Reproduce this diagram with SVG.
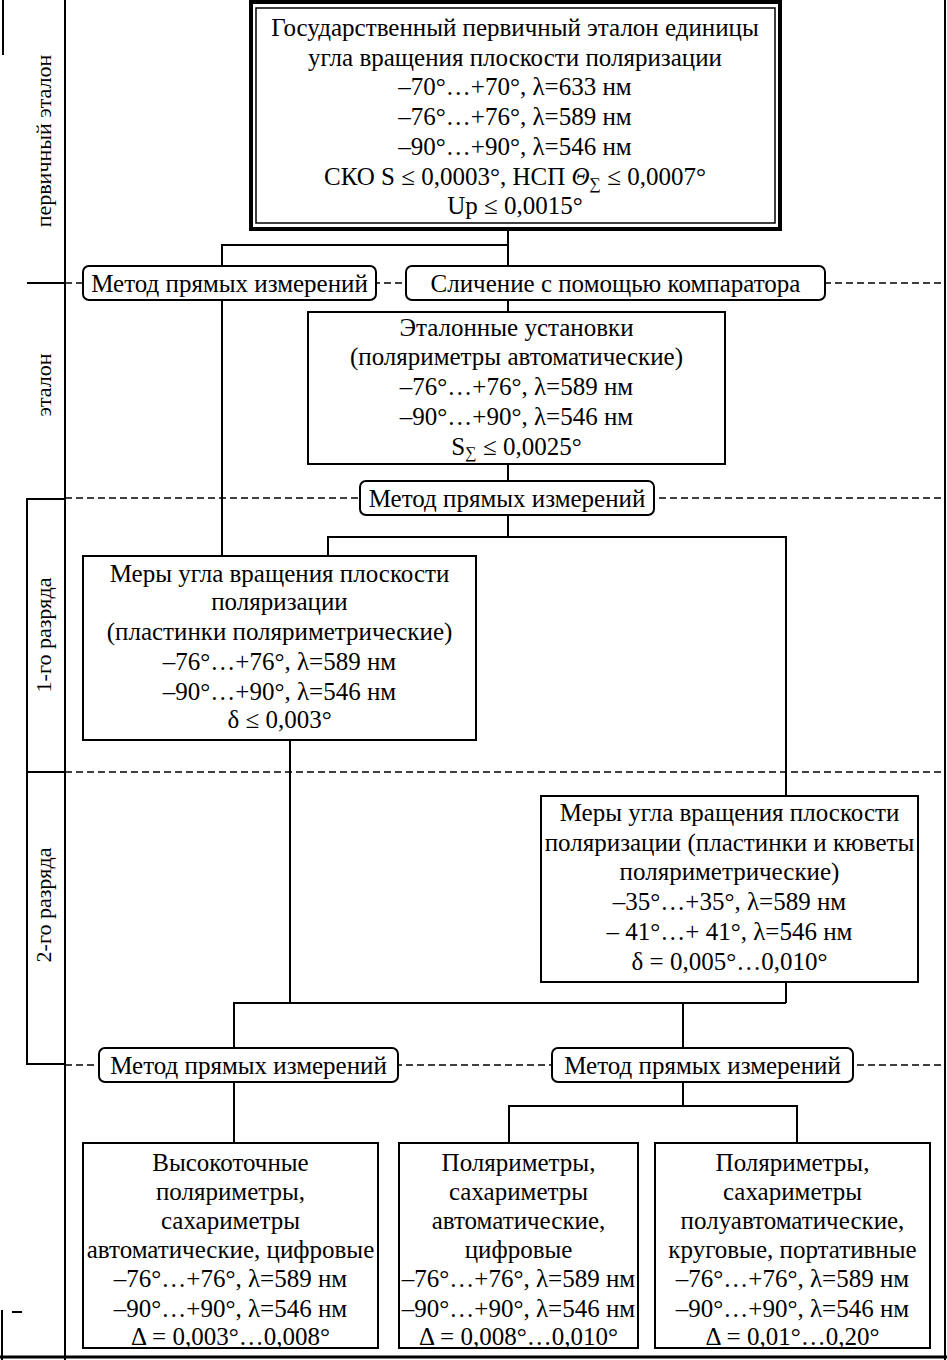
<svg xmlns="http://www.w3.org/2000/svg" width="947" height="1360" viewBox="0 0 947 1360">
<style>
text{font-family:"Liberation Serif","Times New Roman",serif;font-size:25px;fill:#000;text-anchor:middle}
.box{fill:#fff;stroke:#000;stroke-width:2}
.rbox{fill:#fff;stroke:#000;stroke-width:2}
.ln{stroke:#000;stroke-width:2;fill:none}
.dash{stroke:#000;stroke-width:1.5;stroke-dasharray:7 4;fill:none}
.lab{font-size:22px}
</style>
<rect width="947" height="1360" fill="#fff"/>
<g id="frame">
<line class="ln" x1="65" y1="0" x2="65" y2="1360"/>
<line class="ln" x1="945" y1="0" x2="945" y2="1360"/>
<line x1="0" y1="1357" x2="947" y2="1357" stroke="#000" stroke-width="3"/>
<line class="ln" x1="3" y1="0" x2="3" y2="55"/>
<line class="ln" x1="2" y1="1310" x2="2" y2="1360"/>
<line class="ln" x1="12" y1="1312" x2="22" y2="1312"/>
<line class="ln" x1="27" y1="283" x2="65" y2="283"/>
<rect class="ln" x="27" y="499" width="38" height="565"/>
<line class="ln" x1="27" y1="772" x2="65" y2="772"/>
<line class="dash" x1="65" y1="283" x2="945" y2="283"/>
<line class="dash" x1="65" y1="498" x2="945" y2="498"/>
<line class="dash" x1="65" y1="772" x2="945" y2="772"/>
<line class="dash" x1="65" y1="1065" x2="945" y2="1065"/>
<text class="lab" transform="translate(51,141) rotate(-90)">первичный эталон</text>
<text class="lab" transform="translate(51,385) rotate(-90)">эталон</text>
<text class="lab" transform="translate(51,635) rotate(-90)">1-го разряда</text>
<text class="lab" transform="translate(51,905) rotate(-90)">2-го разряда</text>
</g>
<g id="connectors">
<polyline class="ln" points="508,229 508,245 222,245 222,266"/>
<line class="ln" x1="508" y1="245" x2="508" y2="266"/>
<line class="ln" x1="222" y1="300" x2="222" y2="556"/>
<line class="ln" x1="508" y1="300" x2="508" y2="312"/>
<line class="ln" x1="508" y1="464" x2="508" y2="481"/>
<line class="ln" x1="508" y1="515" x2="508" y2="537"/>
<polyline class="ln" points="328,556 328,537 786,537 786,796"/>
<line class="ln" x1="290" y1="740" x2="290" y2="1003"/>
<line class="ln" x1="786" y1="982" x2="786" y2="1003"/>
<polyline class="ln" points="234,1048 234,1003 786,1003"/>
<line class="ln" x1="683" y1="1003" x2="683" y2="1048"/>
<line class="ln" x1="234" y1="1082" x2="234" y2="1143"/>
<line class="ln" x1="683" y1="1082" x2="683" y2="1106"/>
<polyline class="ln" points="509,1143 509,1106 797,1106 797,1143"/>
</g>
<g id="n_primary">
<rect x="251" y="2" width="529" height="227" fill="#fff" stroke="#000" stroke-width="4"/>
<rect x="256" y="8" width="519" height="215" fill="none" stroke="#000" stroke-width="1.5"/>
<text x="515" y="36">Государственный первичный эталон единицы</text>
<text x="515" y="66">угла вращения плоскости поляризации</text>
<text x="515" y="95">–70°…+70°, λ=633 нм</text>
<text x="515" y="125">–76°…+76°, λ=589 нм</text>
<text x="515" y="155">–90°…+90°, λ=546 нм</text>
<text x="515" y="185">СКО S ≤ 0,0003°, НСП <tspan font-style="italic">Θ</tspan><tspan font-size="16" dy="4">∑</tspan><tspan dy="-4"> ≤ 0,0007°</tspan></text>
<text x="515" y="214">Up ≤ 0,0015°</text>
</g>
<g id="m_direct1">
<rect class="rbox" x="83" y="266" width="293" height="34" rx="6"/>
<text x="229.5" y="292">Метод прямых измерений</text>
</g>
<g id="m_compar">
<rect class="rbox" x="406" y="266" width="419" height="34" rx="6"/>
<text x="615.5" y="292">Сличение с помощью компаратора</text>
</g>
<g id="n_etalon">
<rect class="box" x="308" y="312" width="417" height="152"/>
<text x="516.5" y="336">Эталонные установки</text>
<text x="516.5" y="365">(поляриметры автоматические)</text>
<text x="516.5" y="395">–76°…+76°, λ=589 нм</text>
<text x="516.5" y="425">–90°…+90°, λ=546 нм</text>
<text x="516.5" y="455">S<tspan font-size="16" dy="3">∑</tspan><tspan dy="-3"> ≤ 0,0025°</tspan></text>
</g>
<g id="m_direct2">
<rect class="rbox" x="360" y="481" width="294" height="34" rx="6"/>
<text x="507" y="507">Метод прямых измерений</text>
</g>
<g id="n_rank1">
<rect class="box" x="83" y="556" width="393" height="184"/>
<text x="279.5" y="582">Меры угла вращения плоскости</text>
<text x="279.5" y="610">поляризации</text>
<text x="279.5" y="640">(пластинки поляриметрические)</text>
<text x="279.5" y="670">–76°…+76°, λ=589 нм</text>
<text x="279.5" y="700">–90°…+90°, λ=546 нм</text>
<text x="279.5" y="728">δ ≤ 0,003°</text>
</g>
<g id="n_rank2">
<rect class="box" x="541" y="796" width="377" height="186"/>
<text x="729.5" y="821">Меры угла вращения плоскости</text>
<text x="729.5" y="851">поляризации (пластинки и кюветы</text>
<text x="729.5" y="880">поляриметрические)</text>
<text x="729.5" y="910">–35°…+35°, λ=589 нм</text>
<text x="729.5" y="940">– 41°…+ 41°, λ=546 нм</text>
<text x="729.5" y="970">δ = 0,005°…0,010°</text>
</g>
<g id="m_direct3">
<rect class="rbox" x="99" y="1048" width="299" height="34" rx="6"/>
<text x="248.5" y="1074">Метод прямых измерений</text>
</g>
<g id="m_direct4">
<rect class="rbox" x="552" y="1048" width="301" height="34" rx="6"/>
<text x="702.5" y="1074">Метод прямых измерений</text>
</g>
<g id="n_work1">
<rect class="box" x="83" y="1143" width="295" height="205"/>
<text x="230.5" y="1171">Высокоточные</text>
<text x="230.5" y="1200">поляриметры,</text>
<text x="230.5" y="1229">сахариметры</text>
<text x="230.5" y="1258">автоматические, цифровые</text>
<text x="230.5" y="1287">–76°…+76°, λ=589 нм</text>
<text x="230.5" y="1317">–90°…+90°, λ=546 нм</text>
<text x="230.5" y="1345">Δ = 0,003°…0,008°</text>
</g>
<g id="n_work2">
<rect class="box" x="399" y="1143" width="239" height="205"/>
<text x="518.5" y="1171">Поляриметры,</text>
<text x="518.5" y="1200">сахариметры</text>
<text x="518.5" y="1229">автоматические,</text>
<text x="518.5" y="1258">цифровые</text>
<text x="518.5" y="1287">–76°…+76°, λ=589 нм</text>
<text x="518.5" y="1317">–90°…+90°, λ=546 нм</text>
<text x="518.5" y="1345">Δ = 0,008°…0,010°</text>
</g>
<g id="n_work3">
<rect class="box" x="655" y="1143" width="275" height="205"/>
<text x="792.5" y="1171">Поляриметры,</text>
<text x="792.5" y="1200">сахариметры</text>
<text x="792.5" y="1229">полуавтоматические,</text>
<text x="792.5" y="1258">круговые, портативные</text>
<text x="792.5" y="1287">–76°…+76°, λ=589 нм</text>
<text x="792.5" y="1317">–90°…+90°, λ=546 нм</text>
<text x="792.5" y="1345">Δ = 0,01°…0,20°</text>
</g>
</svg>
